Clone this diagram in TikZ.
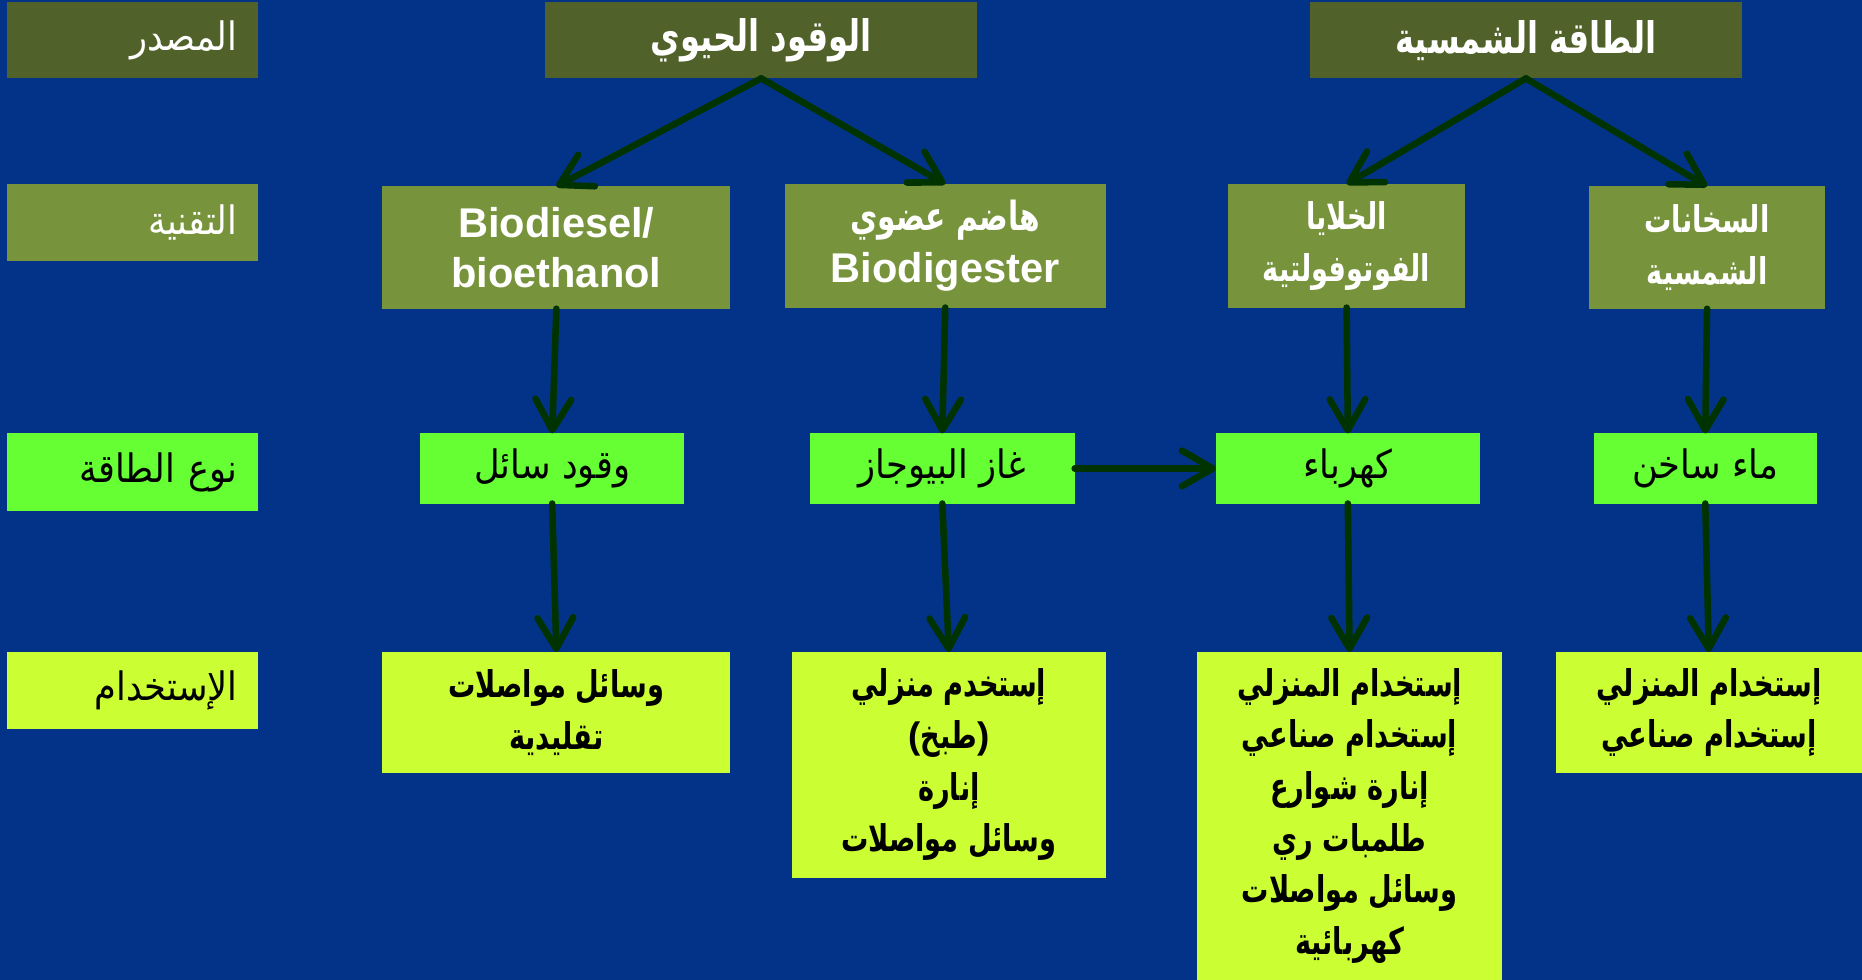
\documentclass[tikz,border=0pt]{standalone}
\usepackage{fontspec}
\setmainfont{Liberation Sans}
\newfontfamily\arabicfont[Script=Arabic, UprightFeatures={FakeStretch=0.9}, BoldFeatures={FakeStretch=0.74}]{DejaVu Sans}
\TeXXeTstate=1
\usetikzlibrary{arrows.meta}
\definecolor{bgblue}{RGB}{2,51,137}
\definecolor{darkolive}{RGB}{80,98,42}
\definecolor{olive}{RGB}{119,147,59}
\definecolor{brightgreen}{RGB}{102,255,51}
\definecolor{yellowgreen}{RGB}{204,255,51}
\definecolor{arrowgreen}{RGB}{0,51,0}
\newcommand\artxt[1]{{\arabicfont\beginR #1\endR}}
\begin{document}
\begin{tikzpicture}[x=0.5pt,y=-0.5pt,
  bx/.style 2 args={inner sep=0pt, outer sep=0pt, align=center,
    minimum width=#1*0.5pt, minimum height=#2*0.5pt},
  lbl/.style={align=right, text width=177*0.5pt, font=\fontsize{16.5}{18}\selectfont},
  src/.style={fill=darkolive, text=white, font=\fontsize{18.3}{20}\selectfont\bfseries},
  tech/.style={fill=olive, text=white, font=\fontsize{15.5}{22}\selectfont\bfseries},
  etype/.style={fill=brightgreen, text=black, font=\fontsize{16.5}{20}\selectfont},
  usebox/.style={fill=yellowgreen, text=black, font=\fontsize{15.5}{21.75}\selectfont\bfseries},
  latin/.style={font=\fontsize{17.5}{21}\selectfont\bfseries},
  arr/.style={draw=arrowgreen, line width=2.75pt, line cap=round,
    -{Straight Barb[length=13pt,width=15pt,round]}}
]
\fill[bgblue] (0,0) rectangle (1568,825);
\useasboundingbox (0,0) rectangle (1568,825);

% left column
\node[bx={211}{64}, lbl, fill=darkolive, text=white] (hsrc) at (111.5,34) {\artxt{المصدر}};
\node[bx={211}{65}, lbl, fill=olive, text=white] (htech) at (111.5,187.5) {\artxt{التقنية}};
\node[bx={211}{65}, lbl, fill=brightgreen, text=black] (htype) at (111.5,397.5) {\artxt{نوع الطاقة}};
\node[bx={211}{65}, lbl, fill=yellowgreen, text=black] (huse) at (111.5,581.5) {\artxt{الإستخدام}};

% sources
\node[bx={364}{64}, src] (bio) at (641,34) {\artxt{الوقود الحيوي}};
\node[bx={364}{64}, src] (sol) at (1285,34) {\artxt{الطاقة الشمسية}};

% technologies
\node[bx={293}{103}, tech, latin] (bd) at (468.5,208.5) {Biodiesel/\\bioethanol};
\node[bx={270}{104}, tech] (dg) at (796,207) {{\fontsize{16.9}{23}\selectfont\artxt{هاضم عضوي}}\\{\fontsize{17.5}{23}\selectfont Biodigester}};
\node[bx={200}{104}, tech] (pv) at (1134,207) {\artxt{الخلايا}\\\artxt{الفوتوفولتية}};
\node[bx={199}{103}, tech] (sh) at (1437.5,208.5) {\artxt{السخانات}\\\artxt{الشمسية}};

% energy types
\node[bx={222}{59}, etype] (lf) at (465,394.5) {\artxt{وقود سائل}};
\node[bx={223}{59}, etype] (gas) at (793.5,394.5) {\artxt{غاز البيوجاز}};
\node[bx={222}{59}, etype] (el) at (1135,394.5) {\artxt{كهرباء}};
\node[bx={188}{59}, etype] (hw) at (1436,394.5) {\artxt{ماء ساخن}};

% uses
\node[bx={293}{102}, usebox] (u1) at (468.5,600) {\artxt{وسائل مواصلات}\\\artxt{تقليدية}};
\node[bx={264}{190}, usebox] (u2) at (799,644) {\artxt{إستخدم منزلي}\\(\artxt{طبخ})\\\artxt{إنارة}\\\artxt{وسائل مواصلات}};
\node[bx={257}{276}, usebox] (u3) at (1136.5,687) {\artxt{إستخدام المنزلي}\\\artxt{إستخدام صناعي}\\\artxt{إنارة شوارع}\\\artxt{طلمبات ري}\\\artxt{وسائل مواصلات}\\\artxt{كهربائية}};
\node[bx={258}{102}, usebox] (u4) at (1439,600) {\artxt{إستخدام المنزلي}\\\artxt{إستخدام صناعي}};

% connectors
\draw[arr] (bio.south) -- (bd.north);
\draw[arr] (bio.south) -- (dg.north);
\draw[arr] (sol.south) -- (pv.north);
\draw[arr] (sol.south) -- (sh.north);
\draw[arr] (bd.south) -- (lf.north);
\draw[arr] (dg.south) -- (gas.north);
\draw[arr] (pv.south) -- (el.north);
\draw[arr] (sh.south) -- (hw.north);
\draw[arr] (lf.south) -- (u1.north);
\draw[arr] (gas.south) -- (u2.north);
\draw[arr] (el.south) -- (u3.north);
\draw[arr] (hw.south) -- (u4.north);
\draw[arr] (gas.east) -- (el.west);
\end{tikzpicture}
\end{document}
